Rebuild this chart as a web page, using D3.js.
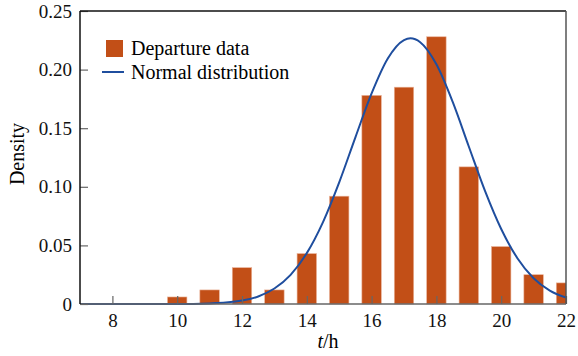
<!DOCTYPE html>
<html>
<head>
<meta charset="utf-8">
<script src="https://cdn.jsdelivr.net/npm/d3@7"></script>
<style>
  body { margin: 0; background: #fff; }
  text { font-family: "Liberation Serif", "Times New Roman", serif; }
</style>
</head>
<body>
<svg id="chart" width="578" height="356"></svg>
<script>
// histogram: hour of day -> density
var hours = [10, 11, 12, 13, 14, 15, 16, 17, 18, 19, 20, 21, 22];
var density = [0.006, 0.012, 0.031, 0.012, 0.043, 0.092, 0.178, 0.185, 0.228, 0.117, 0.049, 0.025, 0.018];

// normal curve
var curveT = [7, 8, 9, 10, 10.5, 11, 11.5, 12, 12.5, 13, 13.5, 14, 14.5, 15, 15.5, 16, 16.5, 17, 17.2, 17.5, 18, 18.5, 19, 19.5, 20, 20.5, 21, 21.5, 22];
var curveD = [0, 0, 0, 0, 0.0001, 0.0005, 0.0012, 0.0029, 0.0064, 0.0132, 0.0249, 0.0434, 0.0699, 0.1038, 0.1422, 0.1797, 0.2095, 0.2252, 0.2267, 0.2234, 0.2045, 0.1726, 0.1344, 0.0965, 0.0640, 0.0391, 0.0220, 0.0115, 0.0055];

var xTicks = [8, 10, 12, 14, 16, 18, 20, 22];
var yTicks = [0, 0.05, 0.10, 0.15, 0.20, 0.25];

var barColour = "#c24f17";
var lineColour = "#1f4e9e";

var svg = d3.select("#chart");
var pLeft = 80, pRight = 566, pTop = 11, pBottom = 304;

var x = d3.scaleLinear().domain([7, 22]).range([pLeft, pRight]);
var y = d3.scaleLinear().domain([0, 0.25]).range([pBottom, pTop]);

svg.append("clipPath").attr("id", "plotClip")
    .append("rect")
    .attr("x", pLeft).attr("y", pTop)
    .attr("width", pRight - pLeft).attr("height", pBottom - pTop + 1.5);

var plot = svg.append("g").attr("clip-path", "url(#plotClip)");

var barW = x(7.6) - x(7);
plot.selectAll(".bar")
    .data(hours)
    .enter()
    .append("rect")
    .attr("class", "bar")
    .attr("x", d => x(d) - barW / 2)
    .attr("y", (d, i) => y(density[i]))
    .attr("width", barW)
    .attr("height", (d, i) => y(0) - y(density[i]))
    .attr("fill", barColour)
    .attr("stroke", "#eab39a")
    .attr("stroke-width", 0.6);

// axes, ticks point inward
var xAxis = svg.append("g")
    .attr("transform", `translate(0,${pBottom})`)
    .call(d3.axisBottom(x).tickValues(xTicks).tickSize(-8).tickPadding(10).tickFormat(d3.format("d")));
var yAxis = svg.append("g")
    .attr("transform", `translate(${pLeft},0)`)
    .call(d3.axisLeft(y).tickValues(yTicks).tickSize(-8).tickPadding(8)
        .tickFormat(d => d === 0 ? "0" : d3.format(".2f")(d)));

[xAxis, yAxis].forEach(function(ax) {
    ax.select(".domain").remove();
    ax.selectAll(".tick line").attr("stroke", "#666").attr("stroke-width", 1.2);
    ax.selectAll(".tick text").attr("fill", "#111").style("font-size", "19px")
        .style("font-family", "'Liberation Serif', serif");
});

// frame
svg.append("line").attr("x1", pLeft).attr("x2", pRight).attr("y1", pTop).attr("y2", pTop)
    .attr("stroke", "#111").attr("stroke-width", 1.5);
svg.append("line").attr("x1", pRight).attr("x2", pRight).attr("y1", pTop).attr("y2", pBottom)
    .attr("stroke", "#555").attr("stroke-width", 1.5);
svg.append("line").attr("x1", pLeft).attr("x2", pRight).attr("y1", pBottom).attr("y2", pBottom)
    .attr("stroke", "#666").attr("stroke-width", 1.5);
svg.append("line").attr("x1", pLeft).attr("x2", pLeft).attr("y1", pTop).attr("y2", pBottom)
    .attr("stroke", "#111").attr("stroke-width", 1.5);

var line = d3.line()
    .x(d => x(d))
    .y((d, i) => y(curveD[i]))
    .curve(d3.curveMonotoneX);

plot.append("path")
    .attr("d", line(curveT))
    .attr("fill", "none")
    .attr("stroke", lineColour)
    .attr("stroke-width", 2);

// legend
var legend = svg.append("g");
legend.append("rect")
    .attr("x", 106).attr("y", 40).attr("width", 17).attr("height", 17)
    .attr("fill", barColour);
legend.append("text")
    .attr("x", 131).attr("y", 55)
    .style("font-size", "20px")
    .text("Departure data");
legend.append("line")
    .attr("x1", 102).attr("x2", 124).attr("y1", 72).attr("y2", 72)
    .attr("stroke", lineColour).attr("stroke-width", 2);
legend.append("text")
    .attr("x", 131).attr("y", 79)
    .style("font-size", "20px")
    .text("Normal distribution");

// axis titles
svg.append("text")
    .attr("transform", "translate(24,154) rotate(-90)")
    .attr("text-anchor", "middle")
    .style("font-size", "20px")
    .text("Density");

var xt = svg.append("text")
    .attr("x", 328).attr("y", 348)
    .attr("text-anchor", "middle")
    .style("font-size", "20px");
xt.append("tspan").style("font-style", "italic").text("t");
xt.append("tspan").text("/h");
</script>
</body>
</html>
